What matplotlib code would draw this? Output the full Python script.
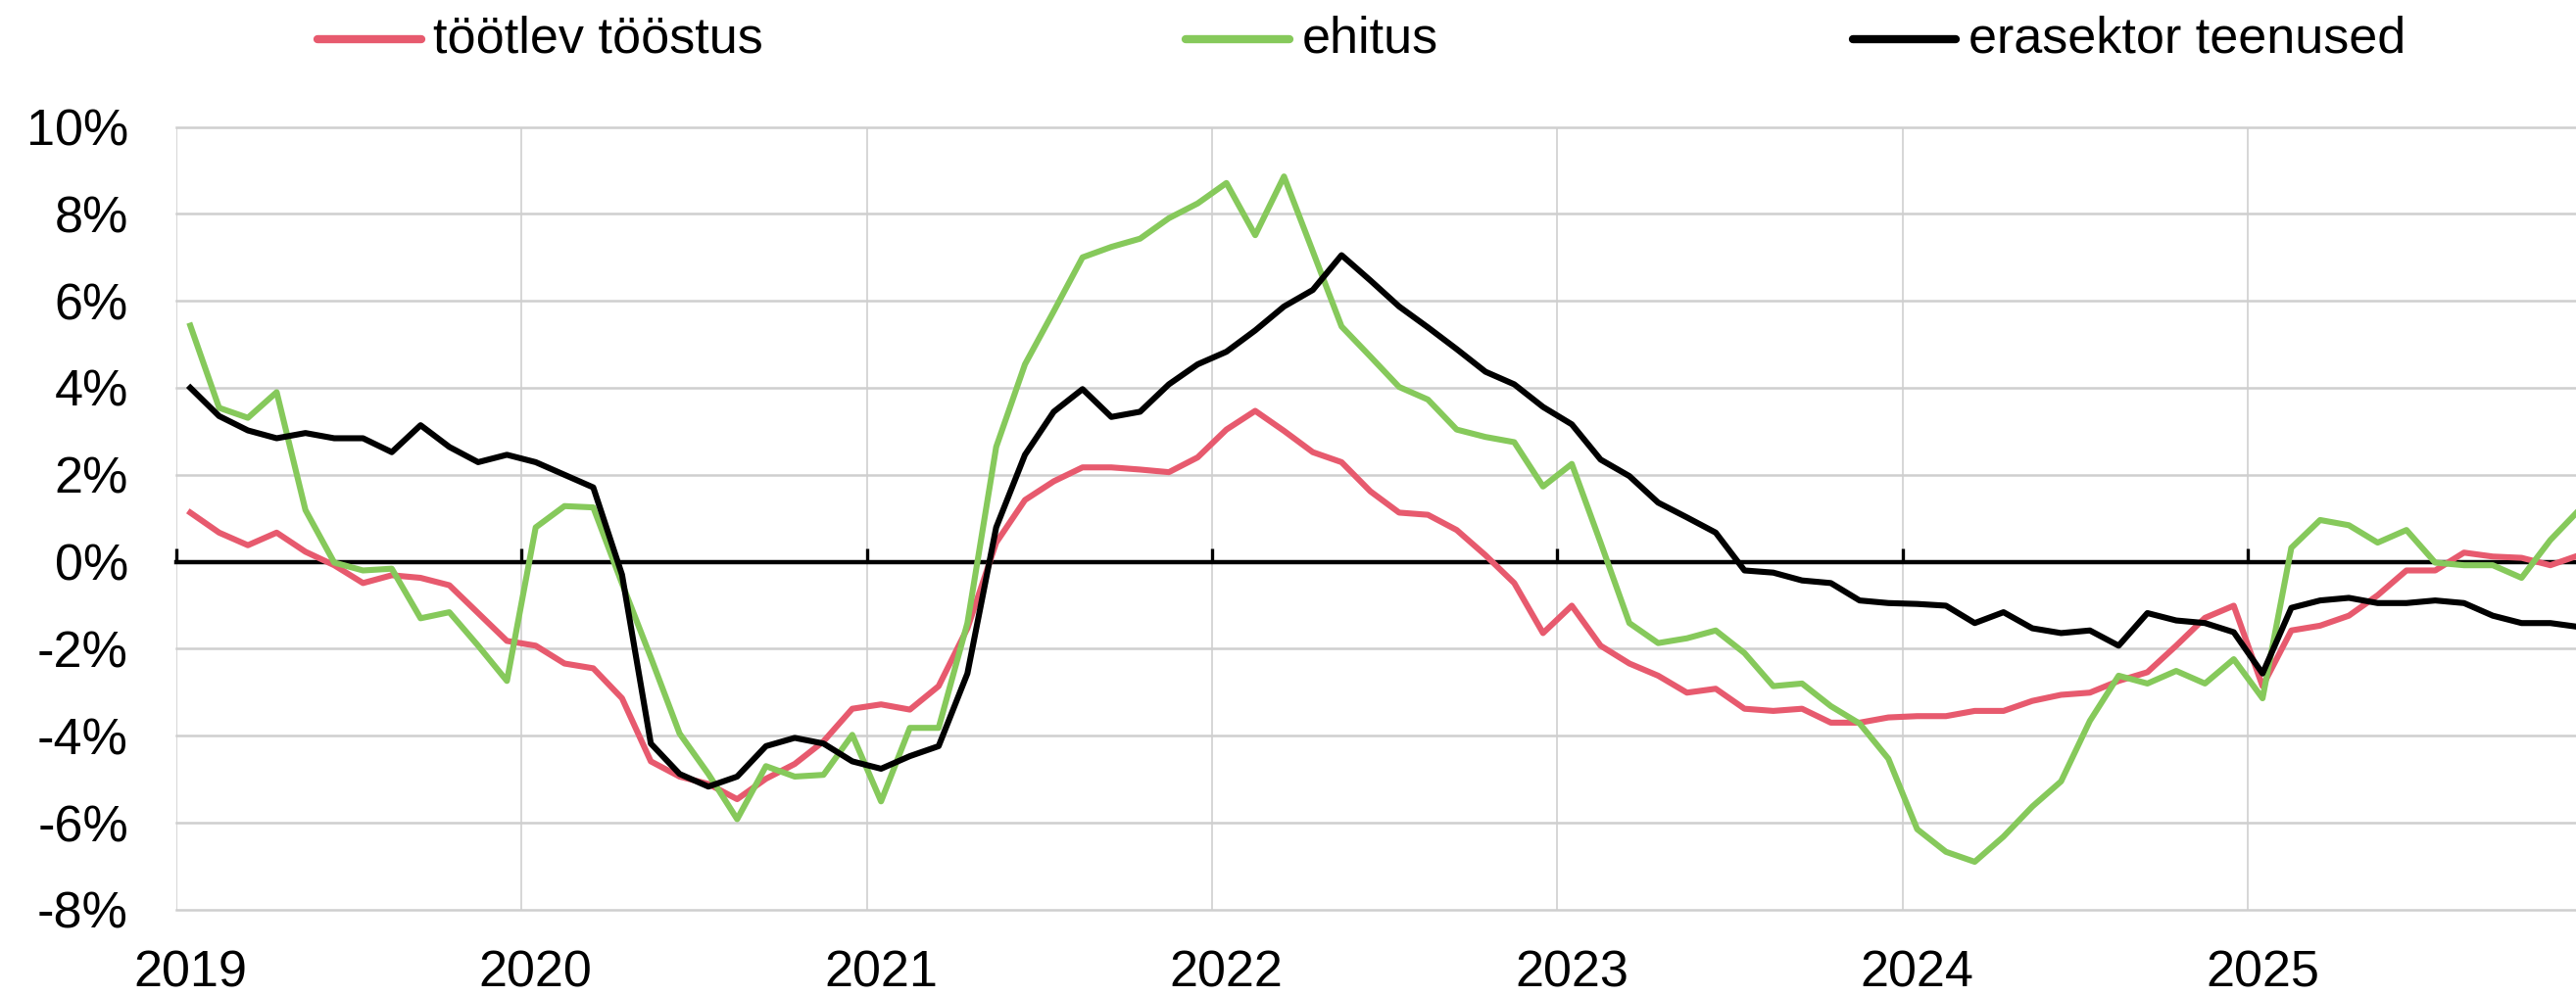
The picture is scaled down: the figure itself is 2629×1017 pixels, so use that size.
import numpy as np
import matplotlib
matplotlib.use('Agg')
import matplotlib.pyplot as plt
from matplotlib.lines import Line2D
from matplotlib.ticker import FuncFormatter


# ================================== data ====================================

years = [2019, 2020, 2021, 2022, 2023, 2024, 2025]

# monthly values, % (Jan 2019 ... Dec 2025)
tootlev_toostus = [
    1.13, 0.67, 0.38, 0.67, 0.23, -0.08, -0.49, -0.31, -0.37, -0.54, -1.18, -1.82,
    -1.93, -2.34, -2.45, -3.14, -4.59, -4.94, -5.11, -5.46, -4.99, -4.65, -4.13, -3.38,
    -3.28, -3.40, -2.86, -1.53, 0.44, 1.42, 1.85, 2.17, 2.17, 2.12, 2.06, 2.40,
    3.04, 3.47, 3.01, 2.52, 2.29, 1.62, 1.13, 1.08, 0.73, 0.15, -0.49, -1.64,
    -1.01, -1.93, -2.34, -2.62, -3.01, -2.92, -3.38, -3.43, -3.38, -3.70, -3.70, -3.58,
    -3.55, -3.55, -3.43, -3.43, -3.20, -3.06, -3.01, -2.74, -2.54, -1.93, -1.29, -1.01,
    -2.86, -1.58, -1.47, -1.24, -0.77, -0.20, -0.20, 0.21, 0.12, 0.09, -0.08, 0.15,
]

ehitus = [
    5.43, 3.54, 3.31, 3.90, 1.19, -0.02, -0.20, -0.16, -1.30, -1.16, -1.93, -2.74,
    0.79, 1.28, 1.25, -0.50, -2.20, -3.95, -4.88, -5.92, -4.70, -4.94, -4.90, -3.98,
    -5.51, -3.82, -3.82, -1.41, 2.64, 4.54, 5.76, 7.00, 7.24, 7.43, 7.90, 8.24,
    8.71, 7.51, 8.86, 7.14, 5.41, 4.72, 4.02, 3.73, 3.04, 2.87, 2.75, 1.73,
    2.25, 0.44, -1.41, -1.87, -1.76, -1.58, -2.10, -2.86, -2.80, -3.32, -3.72, -4.53,
    -6.15, -6.67, -6.90, -6.32, -5.63, -5.05, -3.66, -2.62, -2.80, -2.51, -2.80, -2.24,
    -3.14, 0.32, 0.96, 0.84, 0.44, 0.73, -0.02, -0.08, -0.08, -0.37, 0.50, 1.19,
]

erasektor_teenused = [
    4.00, 3.35, 3.02, 2.84, 2.96, 2.84, 2.84, 2.52, 3.14, 2.64, 2.29, 2.46,
    2.29, 2.00, 1.71, -0.30, -4.18, -4.88, -5.17, -4.94, -4.24, -4.05, -4.18, -4.59,
    -4.76, -4.47, -4.24, -2.57, 0.79, 2.46, 3.45, 3.97, 3.33, 3.45, 4.08, 4.54,
    4.83, 5.32, 5.87, 6.25, 7.05, 6.47, 5.87, 5.39, 4.89, 4.37, 4.08, 3.56,
    3.16, 2.35, 1.97, 1.36, 1.02, 0.67, -0.20, -0.25, -0.43, -0.49, -0.89, -0.95,
    -0.97, -1.01, -1.41, -1.16, -1.53, -1.64, -1.58, -1.93, -1.18, -1.35, -1.41, -1.62,
    -2.57, -1.06, -0.89, -0.83, -0.95, -0.95, -0.89, -0.95, -1.24, -1.41, -1.41, -1.50,
]

series_labels = ['töötlev tööstus', 'ehitus', 'erasektor teenused']
series_colors = ['#E75A6E', '#86C95B', '#000000']

y_ticks = [-8, -6, -4, -2, 0, 2, 4, 6, 8, 10]


# ================================== figure ==================================

plt.rcParams['font.family'] = ['Liberation Sans', 'DejaVu Sans']
FS = 37.5

fig = plt.figure(figsize=(26.29, 10.17), dpi=100)
ax = fig.add_axes([0.0683, 0.0867, 0.9385, 0.7859])

# months sit in the middle of their category slot, like Excel
x = years[0] + (np.arange(len(tootlev_toostus)) + 0.5) / 12

lines = []
for vals, col in zip([tootlev_toostus, ehitus, erasektor_teenused], series_colors):
    ln, = ax.plot(x, vals, color=col, lw=4.4, zorder=3, solid_joinstyle='round')
    lines.append(ln)

ax.set_xlim(years[0], years[-1] + 1)
ax.set_ylim(y_ticks[0], y_ticks[-1])

# y axis: percent labels, no tick marks
ax.set_yticks(y_ticks)
ax.yaxis.set_major_formatter(FuncFormatter(lambda v, p: f'{v:.0f}%'))
ax.tick_params(axis='y', length=0, pad=35, labelsize=FS)

# x axis: black line at zero with small upward ticks at year boundaries
ax.set_xticks(years)
for side in ['top', 'right', 'left']:
    ax.spines[side].set_visible(False)
ax.spines['bottom'].set_position(('data', 0))
ax.spines['bottom'].set_linewidth(3.2)
ax.spines['bottom'].set_color('black')
ax.tick_params(axis='x', direction='in', length=10, width=2.4, color='black',
               labelbottom=False)

# grid
ax.grid(axis='y', color='#CFCFCF', lw=1.8, zorder=0)
ax.grid(axis='x', color='#D6D6D6', lw=1.4, zorder=0)
for gl in ax.get_ygridlines():
    gl.set_clip_on(False)

# year labels at the bottom, centred on January
sec = ax.secondary_xaxis(0.0)
sec.set_xticks([y + 0.5 / 12 for y in years], labels=[str(y) for y in years])
sec.tick_params(length=0, pad=29, labelsize=FS)
sec.spines['bottom'].set_visible(False)

# legend on top (manual, to match spacing)
leg_y = 0.9607
leg_pos = [(0.1232, 0.1636, 0.1681), (0.4603, 0.5006, 0.5055), (0.7193, 0.7592, 0.7642)]
for ln, label, (x0, x1, xt) in zip(lines, series_labels, leg_pos):
    fig.add_artist(Line2D([x0, x1], [leg_y, leg_y], transform=fig.transFigure,
                          color=ln.get_color(), lw=6, solid_capstyle='round'))
    fig.text(xt, leg_y, label, fontsize=FS, ha='left', va='center')

fig.savefig('out.png', dpi=100)
